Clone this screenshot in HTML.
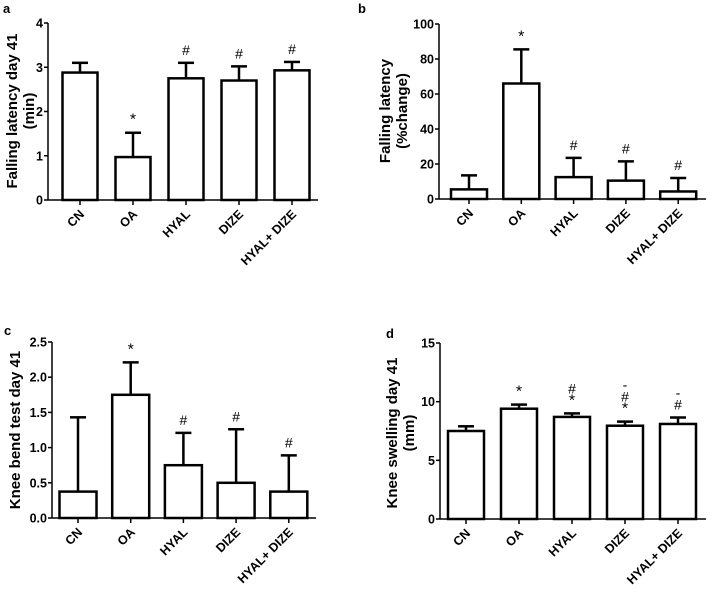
<!DOCTYPE html>
<html><head><meta charset="utf-8"><style>
body{margin:0;background:#fff;}
svg{display:block;font-family:"Liberation Sans",Arial,sans-serif;font-weight:bold;}
</style></head><body>
<svg id="fig" width="708" height="596" viewBox="0 0 708 596" xmlns="http://www.w3.org/2000/svg"></svg>
<script>
const categories = ["CN","OA","HYAL","DIZE","HYAL+ DIZE"];
const aMeans = [2.88,0.97,2.75,2.70,2.93];
const aUpper = [3.10,1.52,3.10,3.02,3.12];
const aTicks = [0,1,2,3,4];
const aMarks = [[],["*"],["#"],["#"],["#"]];
const bMeans = [5.5,66,12.5,10.5,4.3];
const bUpper = [13.5,85.5,23.5,21.5,12];
const bTicks = [0,20,40,60,80,100];
const bMarks = [[],["*"],["#"],["#"],["#"]];
const cMeans = [0.375,1.75,0.75,0.5,0.375];
const cUpper = [1.43,2.21,1.21,1.26,0.89];
const cTicks = [0,0.5,1.0,1.5,2.0,2.5];
const cTickLabels = ["0.0","0.5","1.0","1.5","2.0","2.5"];
const cMarks = [[],["*"],["#"],["#"],["#"]];
const dMeans = [7.5,9.4,8.7,7.95,8.1];
const dUpper = [7.9,9.75,9.0,8.3,8.65];
const dTicks = [0,5,10,15];
const dMarks = [[],["*"],["#","*"],["-","#","*"],["-","#"]];

const NS="http://www.w3.org/2000/svg";
const svg=document.getElementById('fig');
function mk(tag,attrs,parent){const e=document.createElementNS(NS,tag);for(const k in attrs)e.setAttribute(k,attrs[k]);(parent||svg).appendChild(e);return e;}

function panel(o){
  const g=mk('g',{});
  
  
  const ymax=o.ticks[o.ticks.length-1];
  const y=v=>o.y0-(v/ymax)*(o.y0-o.yTop);
  const x=i=>o.c0+i*o.step;
  const L=mk('text',{x:o.lx,y:o.ly,'font-size':13},g);L.textContent=o.letter;
  
  
  const ya=mk('line',{x1:o.ax,y1:o.yTop,x2:o.ax,y2:o.y0,stroke:'#000','stroke-width':1.5},g);
  
  
  const xa=mk('line',{x1:o.ax,y1:o.y0,x2:o.xEnd,y2:o.y0,stroke:'#000','stroke-width':1.5},g);
  
  
  o.ticks.forEach((t,i)=>{
    mk('line',{x1:o.ax-4,y1:y(t),x2:o.ax,y2:y(t),stroke:'#000','stroke-width':1.5},g);
    const tl=mk('text',{x:o.ax-5,y:y(t)+4.5,'font-size':12.5,'text-anchor':'end'},g);
    tl.textContent=o.tickLabels?o.tickLabels[i]:String(t);
    
    
  });
  const tt=mk('text',{transform:`translate(${o.tx},${o.ty}) rotate(-90)`,'font-size':15,'text-anchor':'middle'},g);
  
  
  o.title.forEach((s,k)=>{const ts=mk('tspan',{x:0,dy:k===0?0:17},tt);ts.textContent=s;});
  const bw=o.bw;
  o.means.forEach((m,i)=>{
    const cx=x(i);
    const eb=mk('line',{x1:cx,y1:y(m),x2:cx,y2:y(o.upper[i]),stroke:'#000','stroke-width':2.5},g);
    
    
    mk('line',{x1:cx-8,y1:y(o.upper[i]),x2:cx+8,y2:y(o.upper[i]),stroke:'#000','stroke-width':2.5},g);
    const r=mk('rect',{x:cx-bw/2,y:y(m),width:bw,height:o.y0-y(m),fill:'#fff',stroke:'#000','stroke-width':2.5},g);
    
    
    mk('line',{x1:cx,y1:o.y0,x2:cx,y2:o.y0+5,stroke:'#000','stroke-width':1.5},g);
    const cl=mk('text',{transform:`translate(${cx+5},${o.y0+15}) rotate(-45)`,'font-size':12.5,'text-anchor':'end'},g);
    cl.textContent=categories[i];
    
    
    const marks=o.marks[i];
    marks.forEach((s,k)=>{
      const yy=y(o.upper[i])-8-(marks.length-1-k)*12;
      const a=mk('text',{x:cx,y:yy,'font-size':s==='*'?16:14,'text-anchor':'middle','font-weight':'normal'},g);
      a.textContent=s;
      
      
    });
  });
}
panel({id:'panel-a',letter:'a',lx:3,ly:13,ax:48,xEnd:318,y0:200,yTop:23,c0:80,step:53,bw:35,ticks:aTicks,means:aMeans,upper:aUpper,marks:aMarks,title:['Falling latency day 41','(min)'],tx:17,ty:111});
panel({id:'panel-b',letter:'b',lx:358,ly:13,ax:439,xEnd:706,y0:199,yTop:24,c0:469,step:52.3,bw:36,ticks:bTicks,means:bMeans,upper:bUpper,marks:bMarks,title:['Falling latency','(%change)'],tx:390,ty:111});
panel({id:'panel-c',letter:'c',lx:4,ly:335,ax:52,xEnd:316,y0:518,yTop:342,c0:78,step:52.7,bw:37,ticks:cTicks,tickLabels:cTickLabels,means:cMeans,upper:cUpper,marks:cMarks,title:['Knee bend test day 41'],tx:20,ty:430});
panel({id:'panel-d',letter:'d',lx:386,ly:338,ax:440,xEnd:706,y0:519,yTop:343,c0:466,step:53,bw:36,ticks:dTicks,means:dMeans,upper:dUpper,marks:dMarks,title:['Knee swelling day 41','(mm)'],tx:397,ty:433});
</script>
</body></html>
